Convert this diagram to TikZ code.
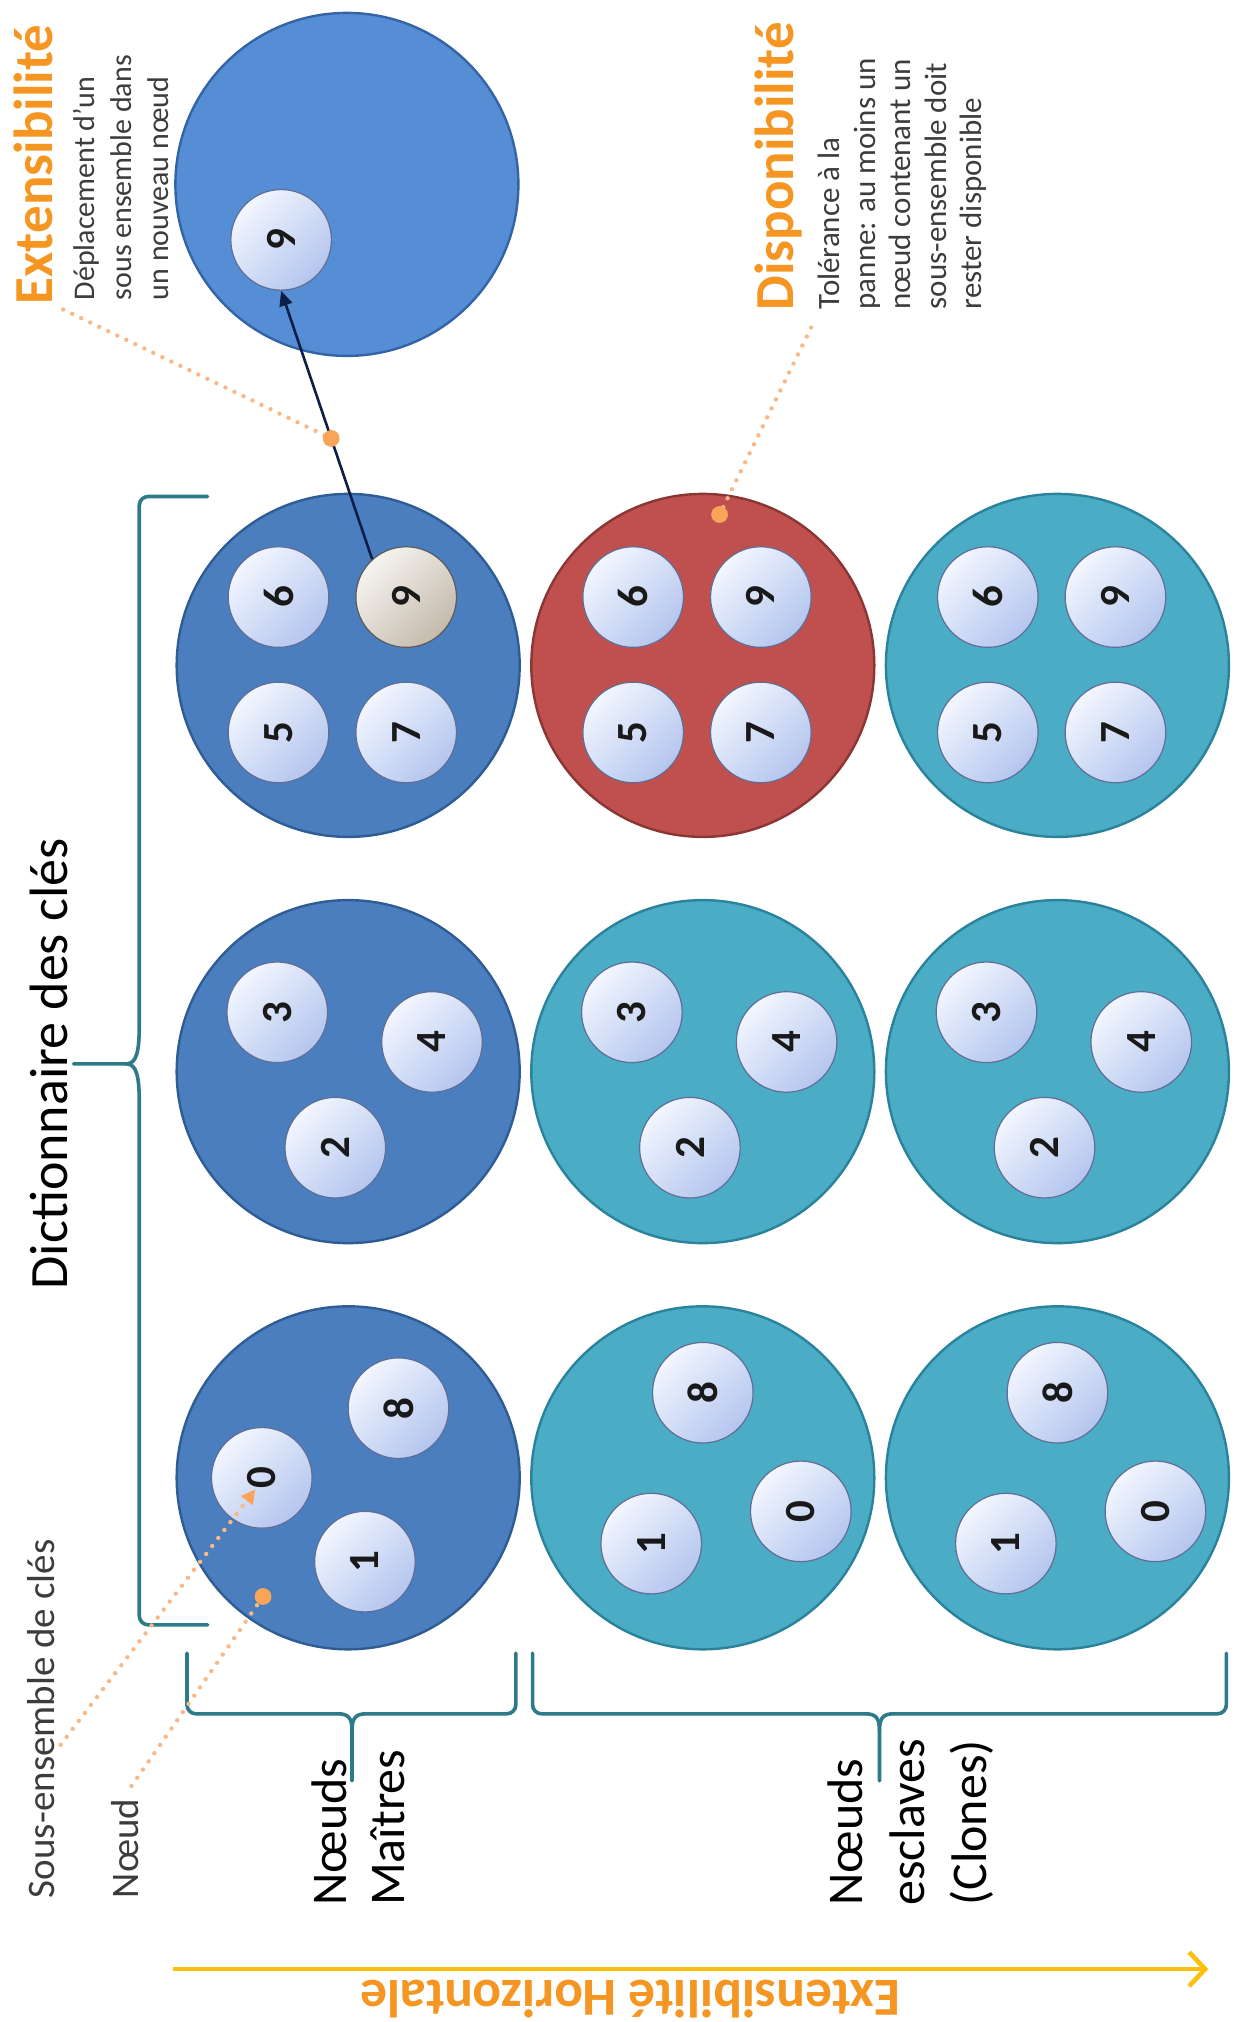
\documentclass[tikz,border=0pt]{standalone}
\usepackage{fontspec}
\setmainfont{Carlito}
\usetikzlibrary{arrows.meta,calc}

\definecolor{masterfill}{RGB}{74,126,190}
\definecolor{masterdraw}{RGB}{48,92,148}
\definecolor{newfill}{RGB}{85,142,213}
\definecolor{newdraw}{RGB}{52,100,165}
\definecolor{clonefill}{RGB}{75,172,198}
\definecolor{clonedraw}{RGB}{42,130,155}
\definecolor{downfill}{RGB}{192,80,77}
\definecolor{downdraw}{RGB}{138,54,52}
\definecolor{keylight}{RGB}{242,246,254}
\definecolor{keydark}{RGB}{180,197,238}
\definecolor{keyedge}{RGB}{95,110,150}
\definecolor{movedlight}{RGB}{246,244,240}
\definecolor{moveddark}{RGB}{196,186,172}
\definecolor{movededge}{RGB}{90,90,90}
\definecolor{bracecol}{RGB}{45,122,138}
\definecolor{titleorange}{RGB}{245,150,35}
\definecolor{leaderorange}{RGB}{249,185,135}
\definecolor{dotorange}{RGB}{248,165,90}
\definecolor{axisyellow}{RGB}{252,192,10}
\definecolor{notegray}{RGB}{60,60,60}
\definecolor{movenavy}{RGB}{12,30,72}

\newlength\unitpx
\setlength\unitpx{1.2893pt}
\newcommand\keylabel[1]{\rotatebox{90}{#1}}

\tikzset{
  server/.style={circle, minimum size=266\unitpx, inner sep=0pt, line width=2.4pt},
  masterbox/.style={server, fill=masterfill, draw=masterdraw},
  clonebox/.style={server, fill=clonefill, draw=clonedraw},
  downbox/.style={server, fill=downfill, draw=downdraw},
  newbox/.style={server, fill=newfill, draw=newdraw},
  keybox/.style={circle, minimum size=78\unitpx, inner sep=0pt, draw=keyedge, line width=1.2pt,
    top color=keylight, bottom color=keydark, shading angle=45, text=black!90,
    font=\bfseries\fontsize{43}{43}\selectfont},
  movedbox/.style={keybox, draw=movededge, top color=movedlight, bottom color=moveddark, shading angle=45},
  bracestyle/.style={draw=bracecol, line width=3.6pt, line cap=round},
  leader/.style={draw=leaderorange, line width=4.4pt, line cap=round, dash pattern=on 0pt off 10pt},
  vtext/.style={rotate=90, inner sep=0pt, anchor=west, align=left},
}

\newcommand\groupbrace[3]{%
  \draw[bracestyle, rounded corners=9pt] (#1,1282) -- (#1,1329) -- (#3-11,1329);
  \draw[bracestyle] (#3-11,1329) .. controls (#3-3,1329) and (#3,1332) .. (#3,1342) -- (#3,1381);
  \draw[bracestyle] (#3,1342) .. controls (#3,1332) and (#3+3,1329) .. (#3+11,1329);
  \draw[bracestyle, rounded corners=9pt] (#3+11,1329) -- (#2,1329) -- (#2,1282);
}

\begin{document}
\begin{tikzpicture}[x=\unitpx, y=-\unitpx]
\path[use as bounding box, fill=white] (0,0) rectangle (961,1568);

% servers: masters, clones, failed clone, new server
\node[masterbox] (m1) at (270,1146) {};
\node[masterbox] (m2) at (270,831) {};
\node[masterbox] (m3) at (270,516) {};
\node[clonebox] (s1) at (545,1146) {};
\node[clonebox] (s2) at (545,831) {};
\node[downbox] (s3) at (545,516) {};
\node[clonebox] (t1) at (820,1146) {};
\node[clonebox] (t2) at (820,831) {};
\node[clonebox] (t3) at (820,516) {};
\node[newbox] (nn) at (269,143) {};

% keys held by each server
\foreach \k/\dx/\dy in {0/-67/0, 8/39/-54, 1/13/65}
  \node[keybox] (m1k\k) at ($(m1)+(\dx,\dy)$) {\keylabel{\k}};
\foreach \srv in {s1,t1}
  \foreach \k/\dx/\dy in {8/0/-66, 1/-40/51, 0/76/26}
    \node[keybox] (\srv k\k) at ($(\srv)+(\dx,\dy)$) {\keylabel{\k}};
\foreach \srv in {m2,s2,t2}
  \foreach \k/\dx/\dy in {3/-55/-46, 4/65/-23, 2/-10/59}
    \node[keybox] (\srv k\k) at ($(\srv)+(\dx,\dy)$) {\keylabel{\k}};
\foreach \k/\dx/\dy in {6/-54/-53, 5/-54/52, 7/45/52}
  \node[keybox] (m3k\k) at ($(m3)+(\dx,\dy)$) {\keylabel{\k}};
\node[movedbox] (m3k9) at ($(m3)+(45,-53)$) {\keylabel{9}};
\foreach \srv in {s3,t3}
  \foreach \k/\dx/\dy in {6/-54/-53, 9/45/-53, 5/-54/52, 7/45/52}
    \node[keybox] (\srv k\k) at ($(\srv)+(\dx,\dy)$) {\keylabel{\k}};
\node[keybox] (n9) at (218,186) {\keylabel{9}};

% migration of key 9 to the new server
\draw[movenavy, line width=2.6pt, -{Triangle[length=15pt, width=13pt]}] (m3k9.132) -- (n9.south);
\coordinate (extDot) at ($(m3k9.132)!0.45!(n9.south)$);

% braces
\draw[bracestyle, rounded corners=9pt] (161,385) -- (108,385) -- (108,795);
\draw[bracestyle] (108,795) .. controls (108,815) and (106,825) .. (98,825) -- (57,825);
\draw[bracestyle] (98,825) .. controls (106,825) and (108,835) .. (108,855);
\draw[bracestyle, rounded corners=9pt] (108,855) -- (108,1260) -- (161,1260);
\groupbrace{145}{400}{273}
\groupbrace{413}{951}{682}

% labels
\node[rotate=90, inner sep=0pt, font=\fontsize{54}{60}\selectfont] (dict) at (38,825) {Dictionnaire des clés};
\node[vtext, font=\fontsize{50}{58}\selectfont] (masters) at (278,1478) {Nœuds\\Maîtres};
\node[vtext, font=\fontsize{50}{62}\selectfont] (clones) at (706,1478) {Nœuds\\esclaves\\(Clones)};
\node[vtext, text=notegray, font=\fontsize{39}{46}\selectfont] (subsetLbl) at (32,1472) {Sous-ensemble de clés};
\node[vtext, text=notegray, font=\fontsize{39}{46}\selectfont] (nodeLbl) at (97,1472) {Nœud};

\node[vtext, text=titleorange, font=\bfseries\fontsize{55}{60}\selectfont] (extTitle) at (26,236) {Extensibilité};
\node[vtext, text=notegray, font=\fontsize{30}{37}\selectfont] (extNote) at (94,233) {Déplacement d’un\\sous ensemble dans\\un nouveau nœud};
\node[vtext, text=titleorange, font=\bfseries\fontsize{55}{60}\selectfont] (dispTitle) at (604,241) {Disponibilité};
\node[vtext, text=notegray, font=\fontsize{31}{35.5}\selectfont] (dispNote) at (700,240) {Tolérance à la\\panne: au moins un\\nœud contenant un\\sous-ensemble doit\\rester disponible};

% horizontal scaling axis
\coordinate (axisStart) at (134,1527);
\coordinate (axisEnd) at (937,1527);
\draw[axisyellow, line width=4.6pt, -{Straight Barb[length=16pt, width=34pt, line width=4.6pt]}] (axisStart) -- (axisEnd);
\node[rotate=180, inner sep=0pt, text=titleorange, font=\bfseries\fontsize{53.5}{60}\selectfont] (axisLbl) at (489,1550) {Extensibilité Horizontale};

% call-out leaders
\coordinate (subsetStart) at (47,1353);
\coordinate (subsetEnd) at ($(m1k0)+(-5,9)$);
\coordinate (nodeStart) at (102,1385);
\coordinate (nodeDot) at (204,1238);
\coordinate (extStart) at (49,240);
\coordinate (dispStart) at (629,254);
\coordinate (dispDot) at (558,399);
\draw[leader, -{Triangle[length=14pt, width=14pt, color=dotorange]}] (subsetStart) -- (subsetEnd);
\draw[leader] (nodeStart) -- (nodeDot);
\draw[leader] (extStart) -- (extDot);
\draw[leader] (dispStart) -- (dispDot);
\foreach \d in {nodeDot, extDot, dispDot}
  \fill[dotorange] (\d) circle (6.5);
\end{tikzpicture}
\end{document}
